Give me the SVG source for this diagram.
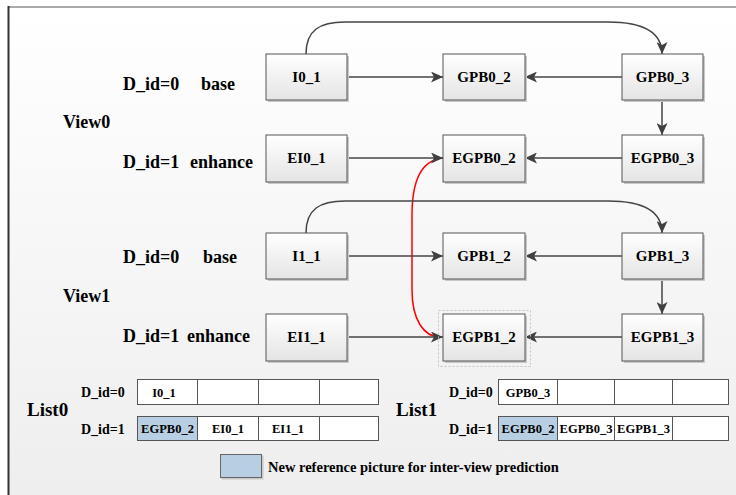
<svg xmlns="http://www.w3.org/2000/svg" width="736" height="495" viewBox="0 0 736 495">
<defs>
<linearGradient id="bg" x1="0" y1="0" x2="0" y2="1">
<stop offset="0" stop-color="#ffffff"/>
<stop offset="1" stop-color="#eeeeee"/>
</linearGradient>
<linearGradient id="ng" x1="0" y1="0" x2="0" y2="1">
<stop offset="0" stop-color="#ffffff"/>
<stop offset="1" stop-color="#e4e4e4"/>
</linearGradient>
<marker id="ah" markerUnits="userSpaceOnUse" markerWidth="13" markerHeight="11" refX="12" refY="5.5" orient="auto">
<path d="M0,0 L12,5.5 L0,11 L3,5.5 z" fill="#404040"/>
</marker>
</defs>
<style>
.lbl{font-family:"Liberation Serif","Times New Roman",serif;font-weight:bold;fill:#000}
.big{font-size:18px}
.nt{font-size:15px;text-anchor:middle}
.ct{font-size:12.5px;text-anchor:middle}
.sm{font-size:14px}
.node{fill:url(#ng);stroke:#555;stroke-width:1}
.shadow{fill:#c8c8c8}
.cell{fill:#fff;stroke:#555;stroke-width:1}
.blue{fill:#b8cfe3;stroke:#555;stroke-width:1}
.conn{fill:none;stroke:#454545;stroke-width:1.5;marker-end:url(#ah)}
.red{fill:none;stroke:#ff0000;stroke-width:1.5}
</style>

<rect x="8" y="7" width="728" height="488" fill="url(#bg)"/>
<line x1="8" y1="7" x2="736" y2="7" stroke="#8c8c8c" stroke-width="1.5"/>
<line x1="8.5" y1="6" x2="8.5" y2="495" stroke="#333" stroke-width="2"/>

<g font-family="Liberation Serif, Times New Roman, serif">
<!-- side labels -->
<g id="labels">
<text class="lbl big" x="123" y="90">D_id=0</text>
<text class="lbl big" x="201" y="90">base</text>
<text class="lbl big" x="63" y="128">View0</text>
<text class="lbl big" x="123" y="168">D_id=1</text>
<text class="lbl big" x="190" y="168">enhance</text>
<text class="lbl big" x="123" y="263">D_id=0</text>
<text class="lbl big" x="203" y="263">base</text>
<text class="lbl big" x="63" y="302">View1</text>
<text class="lbl big" x="123" y="342">D_id=1</text>
<text class="lbl big" x="187" y="342">enhance</text>
</g>

<!-- connectors -->
<g id="connectors">
<path class="red" d="M443,158 C421,160 412,180 412,215 V290 C412,320 424,337 440,337"/>
<path class="conn" d="M306,54 C306,30 320,22 345,22 H608 C645,22 662,33 662,54"/>
<path class="conn" d="M306,233 C306,209 320,201 345,201 H608 C645,201 662,212 662,233"/>
<path class="conn" d="M347,77 H443"/>
<path class="conn" d="M622,77 H525"/>
<path class="conn" d="M662,100 V135"/>
<path class="conn" d="M347,158 H443"/>
<path class="conn" d="M622,158 H525"/>
<path class="conn" d="M347,256 H443"/>
<path class="conn" d="M622,256 H525"/>
<path class="conn" d="M662,279 V314"/>
<path class="conn" d="M347,337 H443"/>
<path class="conn" d="M622,337 H525"/>
</g>

<!-- nodes -->
<g id="I0_1"><rect class="shadow" x="268" y="56" width="81" height="46"/><rect class="node" x="266" y="54" width="81" height="46"/><text class="lbl nt" x="306.5" y="82">I0_1</text></g>
<g id="GPB0_2"><rect class="shadow" x="445" y="56" width="82" height="46"/><rect class="node" x="443" y="54" width="82" height="46"/><text class="lbl nt" x="484" y="82">GPB0_2</text></g>
<g id="GPB0_3"><rect class="shadow" x="624" y="56" width="81" height="46"/><rect class="node" x="622" y="54" width="81" height="46"/><text class="lbl nt" x="662.5" y="82">GPB0_3</text></g>
<g id="EI0_1"><rect class="shadow" x="268" y="137" width="81" height="47"/><rect class="node" x="266" y="135" width="81" height="47"/><text class="lbl nt" x="306.5" y="163">EI0_1</text></g>
<g id="EGPB0_2"><rect class="shadow" x="445" y="137" width="82" height="47"/><rect class="node" x="443" y="135" width="82" height="47"/><text class="lbl nt" x="484" y="163">EGPB0_2</text></g>
<g id="EGPB0_3"><rect class="shadow" x="624" y="137" width="81" height="47"/><rect class="node" x="622" y="135" width="81" height="47"/><text class="lbl nt" x="662.5" y="163">EGPB0_3</text></g>

<g id="I1_1"><rect class="shadow" x="268" y="235" width="81" height="46"/><rect class="node" x="266" y="233" width="81" height="46"/><text class="lbl nt" x="306.5" y="261">I1_1</text></g>
<g id="GPB1_2"><rect class="shadow" x="445" y="235" width="82" height="46"/><rect class="node" x="443" y="233" width="82" height="46"/><text class="lbl nt" x="484" y="261">GPB1_2</text></g>
<g id="GPB1_3"><rect class="shadow" x="624" y="235" width="81" height="46"/><rect class="node" x="622" y="233" width="81" height="46"/><text class="lbl nt" x="662.5" y="261">GPB1_3</text></g>
<g id="EI1_1"><rect class="shadow" x="268" y="316" width="81" height="47"/><rect class="node" x="266" y="314" width="81" height="47"/><text class="lbl nt" x="306.5" y="342">EI1_1</text></g>
<g id="EGPB1_2"><rect x="438.5" y="310.5" width="92" height="56" fill="none" stroke="#c4c4c4" stroke-width="1" stroke-dasharray="2,2"/><rect class="shadow" x="445" y="316" width="82" height="47"/><rect class="node" x="443" y="314" width="82" height="47"/><text class="lbl nt" x="484" y="342">EGPB1_2</text></g>
<g id="EGPB1_3"><rect class="shadow" x="624" y="316" width="81" height="47"/><rect class="node" x="622" y="314" width="81" height="47"/><text class="lbl nt" x="662.5" y="342">EGPB1_3</text></g>

<!-- List0 -->
<g id="List0">
<text class="lbl" style="font-size:19px" x="27" y="416">List0</text>
<text class="lbl sm" x="81" y="397">D_id=0</text>
<text class="lbl sm" x="81" y="434">D_id=1</text>
<rect class="cell" x="137.5" y="379.5" width="60" height="25"/>
<rect class="cell" x="197.5" y="379.5" width="61" height="25"/>
<rect class="cell" x="258.5" y="379.5" width="61" height="25"/>
<rect class="cell" x="319.5" y="379.5" width="59" height="25"/>
<rect class="blue" x="137.5" y="416.5" width="60" height="24"/>
<rect class="cell" x="197.5" y="416.5" width="61" height="24"/>
<rect class="cell" x="258.5" y="416.5" width="61" height="24"/>
<rect class="cell" x="319.5" y="416.5" width="59" height="24"/>
<text class="lbl ct" x="164" y="397">I0_1</text>
<text class="lbl ct" x="167.5" y="433">EGPB0_2</text>
<text class="lbl ct" x="228" y="433">EI0_1</text>
<text class="lbl ct" x="288" y="433">EI1_1</text>
</g>

<!-- List1 -->
<g id="List1">
<text class="lbl" style="font-size:19px" x="396" y="416">List1</text>
<text class="lbl sm" x="449" y="397">D_id=0</text>
<text class="lbl sm" x="449" y="434">D_id=1</text>
<rect class="cell" x="498.5" y="379.5" width="59" height="25"/>
<rect class="cell" x="557.5" y="379.5" width="57" height="25"/>
<rect class="cell" x="614.5" y="379.5" width="58" height="25"/>
<rect class="cell" x="672.5" y="379.5" width="56" height="25"/>
<rect class="blue" x="498.5" y="416.5" width="59" height="24"/>
<rect class="cell" x="557.5" y="416.5" width="57" height="24"/>
<rect class="cell" x="614.5" y="416.5" width="58" height="24"/>
<rect class="cell" x="672.5" y="416.5" width="56" height="24"/>
<text class="lbl ct" x="528" y="397">GPB0_3</text>
<text class="lbl ct" x="528" y="433">EGPB0_2</text>
<text class="lbl ct" x="586" y="433">EGPB0_3</text>
<text class="lbl ct" x="643.5" y="433">EGPB1_3</text>
</g>

<!-- legend -->
<g id="legend">
<rect x="221.5" y="455.5" width="42" height="24" fill="#c8c8c8"/>
<rect x="220.5" y="454.5" width="41" height="23" fill="#b8cfe3" stroke="#666" stroke-width="1"/>
<text class="lbl" style="font-size:14.5px" x="268" y="472">New reference picture for inter-view prediction</text>
</g>
</g>
</svg>
